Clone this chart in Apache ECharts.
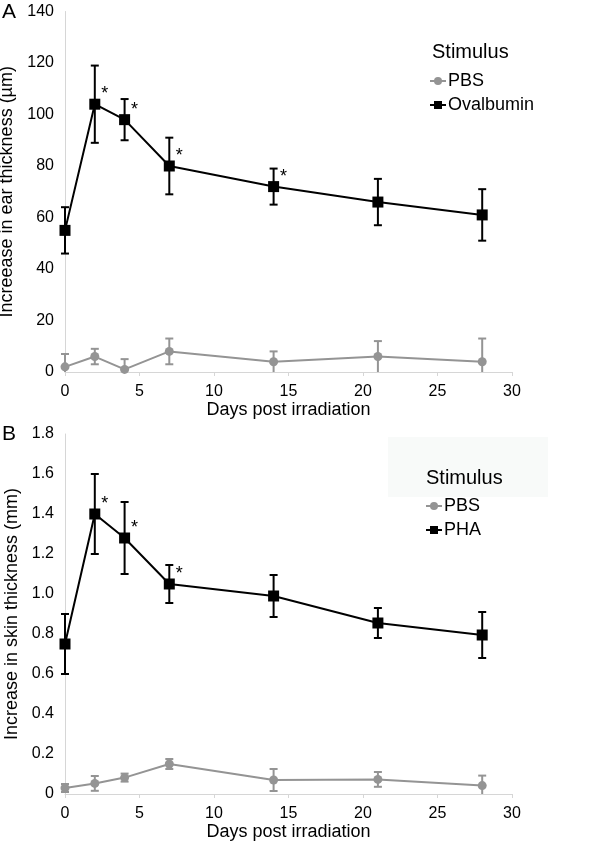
<!DOCTYPE html>
<html>
<head>
<meta charset="utf-8">
<script src="https://cdn.jsdelivr.net/npm/echarts@6/dist/echarts.min.js"></script>
<style>
html,body{margin:0;padding:0;background:#fff;}
#c{width:603px;height:850px;}
</style>
</head>
<body>
<div id="c"></div>
<script>
// ---- data ----
const days = [0, 2, 4, 7, 14, 21, 28];

const aPbs = [2, 6, 1, 8, 4, 6, 4];
const aPbsErr = [5, 3, 4, 5, 4, 6, 9];
const aOva = [55, 104, 98, 80, 72, 66, 61];
const aOvaErr = [9, 15, 8, 11, 7, 9, 10];
const aSig = [0, 1, 1, 1, 1, 0, 0];

const bPbs = [0.03, 0.053, 0.082, 0.15, 0.07, 0.073, 0.042];
const bPbsErr = [0.02, 0.037, 0.02, 0.025, 0.055, 0.037, 0.05];
const bPha = [0.75, 1.40, 1.28, 1.05, 0.99, 0.855, 0.795];
const bPhaErr = [0.15, 0.20, 0.18, 0.095, 0.105, 0.075, 0.115];
const bSig = [0, 1, 1, 1, 0, 0, 0];

const FONT = '"Liberation Sans", Arial, Helvetica, sans-serif';
const GRAY = '#949494';
const BLACK = '#000000';

function pts(vals, sig) {
  return days.map((d, i) => {
    const item = { value: [d, vals[i]] };
    if (sig && sig[i]) {
      item.label = {
        show: true, formatter: '*', position: 'right', distance: 0,
        offset: [1, -10], fontSize: 18, color: '#000', fontFamily: FONT
      };
    }
    return item;
  });
}

function errData(vals, errs) {
  return days.map((d, i) => [d, vals[i] - errs[i], vals[i] + errs[i]]);
}

function errSeries(vals, errs, color, xi, yi) {
  return {
    type: 'custom',
    xAxisIndex: xi, yAxisIndex: yi,
    data: errData(vals, errs),
    silent: true, z: 1,
    clip: false,
    renderItem: function (params, api) {
      const x = api.value(0);
      const loV = api.value(1);
      const lo = api.coord([x, Math.max(0, loV)]);
      const hi = api.coord([x, api.value(2)]);
      const cw = 4;
      const style = { stroke: color, lineWidth: 2, fill: null };
      const children = [
        { type: 'line', shape: { x1: lo[0], y1: lo[1], x2: hi[0], y2: hi[1] }, style: style },
        { type: 'line', shape: { x1: hi[0] - cw, y1: hi[1], x2: hi[0] + cw, y2: hi[1] }, style: style }
      ];
      if (loV > 0) {
        children.push({ type: 'line', shape: { x1: lo[0] - cw, y1: lo[1], x2: lo[0] + cw, y2: lo[1] }, style: style });
      }
      return { type: 'group', children: children };
    }
  };
}

function xAxis(gi) {
  return {
    type: 'value', gridIndex: gi, min: 0, max: 30, interval: 5,
    name: 'Days post irradiation', nameLocation: 'middle', nameGap: 29,
    nameTextStyle: { fontSize: 18, color: '#000', fontFamily: FONT },
    axisLine: { show: true, lineStyle: { color: '#d6d6d6', width: 1 } },
    axisTick: { show: true, length: 4, lineStyle: { color: '#d6d6d6' } },
    axisLabel: { fontSize: 16, color: '#000', margin: 12, fontFamily: FONT },
    splitLine: { show: false }
  };
}

function yAxis(gi, max, interval, name, fmt) {
  return {
    type: 'value', gridIndex: gi, min: 0, max: max, interval: interval,
    name: name, nameLocation: 'middle', nameGap: 38,
    nameTextStyle: { fontSize: 18, color: '#000', fontFamily: FONT },
    axisLine: { show: true, lineStyle: { color: '#d6d6d6', width: 1 } },
    axisTick: { show: false },
    axisLabel: { fontSize: 16, color: '#000', margin: 11, fontFamily: FONT, formatter: fmt },
    splitLine: { show: false }
  };
}

function lineSeries(name, vals, sig, color, symbol, size, xi, yi) {
  return {
    type: 'line', name: name, xAxisIndex: xi, yAxisIndex: yi,
    data: pts(vals, sig),
    symbol: symbol, symbolSize: size, showAllSymbol: true,
    lineStyle: { color: color, width: 2 },
    itemStyle: { color: color },
    z: 3, animation: false
  };
}

const chart = echarts.init(document.getElementById('c'), null, { renderer: 'canvas' });
chart.setOption({
  backgroundColor: '#ffffff',
  animation: false,
  textStyle: { fontFamily: FONT },
  grid: [
    { left: 65, right: 91, top: 11.5, bottom: 478, containLabel: false, outerBoundsMode: 'none' },
    { left: 65, right: 91, top: 434, bottom: 56, containLabel: false, outerBoundsMode: 'none' }
  ],
  xAxis: [xAxis(0), xAxis(1)],
  yAxis: [
    yAxis(0, 140, 20, 'Increease in ear thickness (µm)', function (v) { return String(v); }),
    yAxis(1, 1.8, 0.2, 'Increase in skin thickness (mm)', function (v) { return v === 0 ? '0' : v.toFixed(1); })
  ],
  legend: [
    {
      orient: 'vertical', left: 424, top: 67, itemGap: 6, itemWidth: 16, itemHeight: 10,
      data: ['PBS', 'Ovalbumin'],
      textStyle: { fontSize: 18, color: '#000', fontFamily: FONT, padding: [0, 0, 0, -3] },
      selectedMode: false
    },
    {
      orient: 'vertical', left: 420, top: 492, itemGap: 6, itemWidth: 16, itemHeight: 10,
      data: ['PBS', 'PHA'],
      textStyle: { fontSize: 18, color: '#000', fontFamily: FONT, padding: [0, 0, 0, -3] },
      selectedMode: false
    }
  ],
  graphic: [
    { type: 'text', left: 2, top: 2, style: { text: 'A', fontSize: 21, fill: '#000', fontFamily: FONT } },
    { type: 'text', left: 2, top: 424, style: { text: 'B', fontSize: 21, fill: '#000', fontFamily: FONT } },
    { type: 'text', left: 432, top: 42, style: { text: 'Stimulus', fontSize: 20, fill: '#000', fontFamily: FONT } },
    { type: 'rect', left: 388, top: 437, shape: { width: 160, height: 60 }, style: { fill: '#f8faf9' }, z: -1 },
    { type: 'text', left: 426, top: 468, style: { text: 'Stimulus', fontSize: 20, fill: '#000', fontFamily: FONT } }
  ],
  series: [
    errSeries(aPbs, aPbsErr, GRAY, 0, 0),
    errSeries(aOva, aOvaErr, BLACK, 0, 0),
    lineSeries('PBS', aPbs, null, GRAY, 'circle', 9, 0, 0),
    lineSeries('Ovalbumin', aOva, aSig, BLACK, 'rect', 11, 0, 0),
    errSeries(bPbs, bPbsErr, GRAY, 1, 1),
    errSeries(bPha, bPhaErr, BLACK, 1, 1),
    lineSeries('PBS', bPbs, null, GRAY, 'circle', 9, 1, 1),
    lineSeries('PHA', bPha, bSig, BLACK, 'rect', 11, 1, 1)
  ]
});
</script>
</body>
</html>
